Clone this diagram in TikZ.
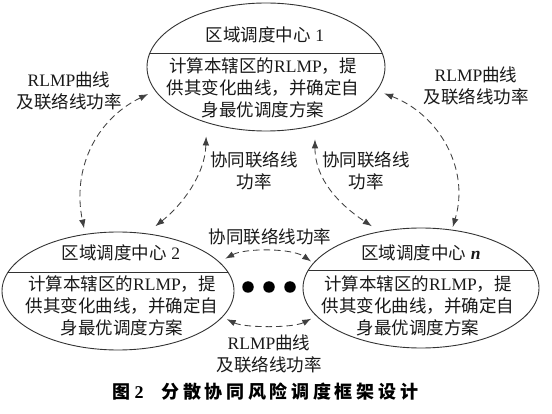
\documentclass[tikz,border=0pt]{standalone}
\usepackage{fontspec}
\setmainfont{Liberation Serif}
\newfontfamily\cjk{Noto Sans CJK SC}
\usetikzlibrary{shapes.geometric,arrows.meta}
\newcommand\capch[1]{\makebox[21.7pt]{#1}}
\begin{document}
\begin{tikzpicture}[x=1pt,y=-1pt,
  every node/.style={inner sep=0pt, outer sep=0pt},
  txt/.style={font=\fontsize{17.5}{21.8}\selectfont, align=center, text=black!90},
  region/.style={ellipse, draw=black!80, line width=0.9pt},
  divider/.style={draw=black!80, line width=0.9pt},
  link/.style={draw=black!75, line width=0.85pt, dash pattern=on 6.5pt off 4pt,
    {Latex[length=9pt,width=6.5pt]}-{Latex[length=9pt,width=6.5pt]}},
  dot/.style={circle, fill=black, minimum size=11.5pt}
]
\useasboundingbox[fill=white] (0,0) rectangle (552,414);

% region ellipses
\node[region, minimum width=238pt, minimum height=128pt] (c1) at (266,67) {};
\node[region, minimum width=232pt, minimum height=118pt] (c2) at (118,291) {};
\node[region, minimum width=236pt, minimum height=120pt] (cn) at (421,288) {};

% dividers
\begin{scope}
  \clip (c1.center) ellipse [x radius=119pt, y radius=64pt];
  \draw[divider] (c1.west |- 0,53) -- (c1.east |- 0,53);
\end{scope}
\begin{scope}
  \clip (c2.center) ellipse [x radius=116pt, y radius=59pt];
  \draw[divider] (c2.west |- 0,272) -- (c2.east |- 0,272);
\end{scope}
\begin{scope}
  \clip (cn.center) ellipse [x radius=118pt, y radius=60pt];
  \draw[divider] (cn.west |- 0,270) -- (cn.east |- 0,270);
\end{scope}

% titles
\node[txt] (t1) at (265,35) {{\cjk 区域调度中心} 1};
\node[txt] (t2) at (121,253) {{\cjk 区域调度中心} 2};
\node[txt] (tn) at (421,253) {{\cjk 区域调度中心} \textbf{\textit{n}}};

% bodies
\node[txt] (b1) at (263,88) {{\cjk 计算本辖区的}RLMP{\cjk ，提}\\{\cjk 供其变化曲线，并确定自}\\{\cjk 身最优调度方案}};
\node[txt] (b2) at (122,306) {{\cjk 计算本辖区的}RLMP{\cjk ，提}\\{\cjk 供其变化曲线，并确定自}\\{\cjk 身最优调度方案}};
\node[txt] (bn) at (418,306) {{\cjk 计算本辖区的}RLMP{\cjk ，提}\\{\cjk 供其变化曲线，并确定自}\\{\cjk 身最优调度方案}};

% dots
\node[dot] (d1) at (248,287) {};
\node[dot] (d2) at (269,287) {};
\node[dot] (d3) at (290,287) {};

% connectors
\draw[link, shorten <=8pt, shorten >=6pt] (c1.192) .. controls (95,120) and (72,170) .. (c2.120);
\draw[link, shorten <=14pt, shorten >=12pt] (c1.223) .. controls (205,175) and (182,205) .. (c2.64);
\draw[link, shorten <=14pt, shorten >=10pt] (c1.310) .. controls (315,180) and (340,205) .. (cn.126);
\draw[link, shorten <=8pt, shorten >=3pt] (c1.348) .. controls (440,115) and (470,170) .. (cn.62);
\draw[link, shorten <=7pt, shorten >=3pt] (c2.16) .. controls (245,248) and (292,248) .. (cn.167);
\draw[link, shorten <=5pt, shorten >=6pt] (c2.346) .. controls (245,328) and (293,328) .. (cn.195);

% connector labels
\node[txt] (l1) at (69,91) {RLMP{\cjk 曲线}\\{\cjk 及联络线功率}};
\node[txt] (l4) at (476,86) {RLMP{\cjk 曲线}\\{\cjk 及联络线功率}};
\node[txt] (l2) at (254,171) {{\cjk 协同联络线}\\{\cjk 功率}};
\node[txt] (l3) at (366,171) {{\cjk 协同联络线}\\{\cjk 功率}};
\node[txt] (l5) at (270,237) {{\cjk 协同联络线功率}};
\node[txt] (l6) at (269,354) {RLMP{\cjk 曲线}\\{\cjk 及联络线功率}};

% caption
\node[anchor=west, font=\fontsize{18}{20}\selectfont\bfseries] (cap) at (112,392)
  {{\cjk\bfseries 图} 2\hspace{16pt}{\cjk\bfseries \capch{分}\capch{散}\capch{协}\capch{同}\capch{风}\capch{险}\capch{调}\capch{度}\capch{框}\capch{架}\capch{设}\capch{计}}};
\end{tikzpicture}
\end{document}
